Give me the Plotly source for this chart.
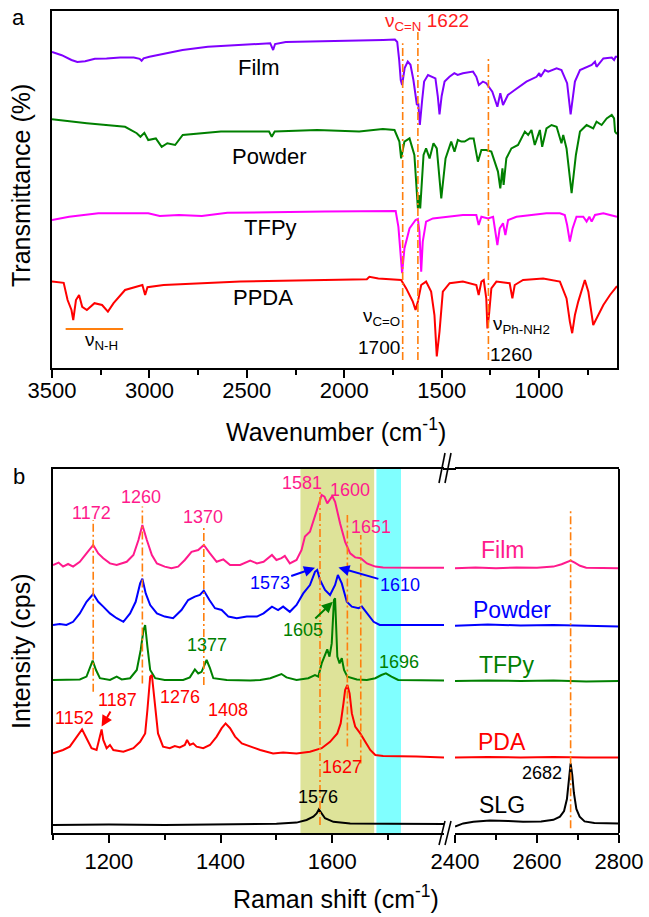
import plotly.graph_objects as go

W, H = 649, 917
FONT = "Liberation Sans, Arial, sans-serif"

# ---------------- Panel a: FTIR (wavenumber, transmittance a.u.) ----------------
film_wn = [3500, 3450, 3400, 3370, 3330, 3280, 3220, 3150, 3080, 3050, 3040, 3030, 3000, 2900, 2830, 2700, 2600, 2450, 2380, 2365,
           2355, 2300, 2150, 2000, 1800, 1740, 1728, 1718, 1710, 1703, 1690, 1674, 1660, 1645, 1632, 1627, 1620, 1612, 1600, 1590,
           1570, 1545, 1532, 1520, 1511, 1500, 1485, 1460, 1435, 1418, 1391, 1339, 1322, 1309, 1288, 1271, 1240, 1214, 1199, 1185,
           1160, 1125, 1065, 1013, 999, 992, 970, 953, 910, 885, 856, 838, 816, 790, 730, 713, 705, 670, 627, 615, 607, 600]
film_t = [79, 78.2, 77, 76.5, 76.7, 77.3, 77.4, 77.6, 77.6, 77.3, 76.8, 77.4, 77.8, 78.8, 79.5, 80.3, 80.6, 81, 81.2, 79.5,
          81, 81.5, 81.6, 81.8, 82, 82.1, 81.5, 77, 72, 70.75, 75, 76.6, 75.8, 72, 68, 65.75, 66.2, 60.75, 67, 71.6,
          73.25, 72.8, 72.4, 68, 63.4, 68, 71.6, 72.8, 73.7, 73.25, 73.7, 74.1, 72.8, 70.75, 71.6, 71.2, 69.1, 65.3, 68.7, 65.75,
          68.25, 69.5, 71.6, 72.8, 73.7, 72.8, 74.5, 74.1, 74.9, 74.5, 71.2, 63.4, 71.6, 74.5, 75.75, 76.6, 75.3, 77.4, 77.6, 77, 77.8, 77.8]

powder_wn = [3500, 3321, 3125, 3065, 3046, 3026, 3006, 2967, 2937, 2908, 2868, 2829, 2633, 2386, 2372, 2357, 2139, 1923, 1802, 1742,
             1717, 1708, 1691, 1665, 1640, 1628, 1622, 1617, 1610, 1593, 1580, 1562, 1542, 1525, 1502, 1480, 1451, 1434, 1417, 1399,
             1382, 1356, 1336, 1314, 1296, 1271, 1245, 1211, 1199, 1188, 1182, 1168, 1142, 1108, 1073, 1056, 1039, 1022, 996, 984,
             962, 936, 910, 885, 876, 859, 833, 811, 790, 756, 722, 705, 679, 653, 627, 615, 610, 600]
powder_t = [62.2, 61.2, 60.3, 58.7, 57.8, 58.8, 57, 57.4, 55.3, 56.2, 55.75, 58.25, 59.1, 59.1, 57.8, 59.1, 59.5, 59.1, 59.75, 59.5,
            56.6, 52.4, 56.6, 57.4, 53.25, 43.25, 39.9, 43.25, 39.9, 53.25, 54.9, 52.4, 56.2, 54.9, 42.4, 52.4, 56.6, 54.1, 57, 56.6,
            56.6, 57.4, 57.4, 51.6, 54.5, 54.5, 54.1, 49.1, 44.9, 49.9, 45.75, 52.4, 54.9, 55.75, 59.1, 58.25, 59.5, 55.75, 59.5, 55.3,
            59.9, 60.75, 60.3, 56.2, 58.25, 54.9, 43.7, 53.25, 59.1, 60.75, 59.9, 61.6, 60.75, 62.4, 63.25, 62.4, 59.1, 58.5]

tfpy_wn = [3500, 3412, 3262, 3006, 2947, 2849, 2731, 2600, 2100, 1736, 1722, 1712, 1703, 1691, 1665, 1634, 1622, 1614, 1605, 1597,
           1580, 1545, 1477, 1391, 1322, 1310, 1296, 1262, 1236, 1223, 1214, 1202, 1185, 1173, 1159, 1116, 1048, 962, 893, 868,
           856, 842, 828, 808, 773, 756, 742, 730, 713, 670, 636, 610, 600]
tfpy_t = [37, 37.8, 38.7, 38.7, 38, 38.25, 38, 38.8, 39.1, 39.25, 35.3, 28, 23.7, 29.9, 34.9, 37, 37.25, 34.1, 24.1, 31.6,
          36.6, 37.4, 37.8, 38.25, 38.25, 35.75, 37.8, 37.4, 37.8, 34.1, 30.75, 34.9, 36.2, 33.25, 37, 37.8, 38.25, 38.7, 38.7, 38.25,
          35.75, 31.6, 34.9, 37.8, 37.8, 36.6, 37.8, 36.6, 38.25, 38.7, 38.25, 37.8, 37.8]

ppda_wn = [3500, 3440, 3420, 3400, 3391, 3377, 3361, 3345, 3321, 3282, 3243, 3213, 3184, 3125, 3036, 3022, 3010, 2927, 2533, 1884,
           1871, 1825, 1708, 1682, 1648, 1634, 1622, 1605, 1580, 1554, 1537, 1525, 1511, 1494, 1459, 1391, 1322, 1310, 1296, 1284,
           1271, 1265, 1257, 1245, 1219, 1151, 1137, 1125, 1082, 979, 893, 859, 842, 830, 816, 799, 765, 747, 722, 705,
           670, 636, 607, 600]
ppda_t = [21.6, 21.3, 17, 14.5, 12, 17, 18.25, 15.3, 14.5, 16.2, 15.75, 14.1, 16.2, 19.5, 20.75, 18.25, 20.2, 20.75, 21.6, 22.2,
          22.8, 22.4, 22, 19.9, 16.6, 14.5, 16.6, 20.75, 21.6, 19.1, 13.25, 2.9, 9.1, 19.1, 21.2, 21.6, 20.75, 18.25, 21.6, 22,
          17.4, 9.9, 13.25, 19.9, 21.6, 21.2, 17.4, 20.75, 22, 22.4, 21.6, 17.4, 11.6, 8.7, 13.25, 16.6, 22, 19.1, 10.75, 12.4,
          15.75, 18.25, 19.9, 20.5]

ftir_marks = [1700, 1622, 1260]
ftir_mark_top = [81.2, 84, 77.4]
ftir_ticks = [3500, 3000, 2500, 2000, 1500, 1000]

# ---------------- Panel b: Raman (shift, intensity a.u.) ----------------
film_rx = [1100, 1110, 1118, 1127, 1136, 1148, 1160, 1172, 1181, 1190, 1202, 1214, 1232, 1244, 1253, 1260, 1268, 1277, 1286, 1300,
           1312, 1324, 1336, 1348, 1360, 1370, 1381, 1393, 1405, 1417, 1435, 1453, 1465, 1477, 1492, 1500, 1509, 1515, 1524, 1536,
           1545, 1551, 1560, 1569, 1581, 1586, 1591, 1600, 1605, 1614, 1623, 1632, 1641, 1651, 1662, 1677, 1691, 1750, 1800]
film_ri = [67, 67.6, 66.6, 67.25, 66.6, 67.8, 69.9, 72, 69.9, 68.7, 67.4, 67, 67.8, 69.5, 73.25, 77, 73.25, 69.5, 67.4, 66.6,
           66.2, 66.6, 68.25, 70.3, 70.75, 72, 69.9, 67.8, 68.4, 67, 67, 68.1, 67.4, 67.8, 69.5, 68.25, 68.7, 69.25, 67.4, 68.25,
           70.75, 74.1, 75.3, 79.1, 84.5, 84.1, 82.4, 84.25, 82.8, 77.4, 72.8, 69.9, 68.9, 68.7, 67.4, 66.6, 66.4, 66.3, 66.3]
film_rx2 = [2400, 2450, 2500, 2550, 2600, 2640, 2660, 2672, 2682, 2692, 2705, 2720, 2760, 2800]
film_ri2 = [66.2, 66.4, 66.2, 66.4, 66.3, 66.6, 67.2, 67.8, 68.1, 67.6, 66.8, 66.3, 66.3, 66.2]

powder_rx = [1100, 1112, 1124, 1136, 1148, 1160, 1172, 1181, 1190, 1202, 1214, 1226, 1238, 1248, 1256, 1260, 1266, 1274, 1286, 1300,
             1315, 1330, 1342, 1354, 1363, 1370, 1380, 1390, 1402, 1414, 1429, 1447, 1465, 1477, 1492, 1503, 1512, 1524, 1536, 1548,
             1560, 1569, 1573, 1578, 1587, 1596, 1605, 1610, 1617, 1626, 1635, 1647, 1653, 1662, 1674, 1685, 1720, 1800]
powder_ri = [52, 52.25, 52, 52.8, 54.9, 57.8, 59.75, 57.8, 56.6, 54.9, 53.7, 52.8, 54.9, 57.8, 62.4, 63.6, 59.9, 57, 54.9, 54.1,
             53.7, 55.75, 58.25, 59.1, 59.5, 60.6, 58.25, 56.2, 55.75, 54.1, 53.7, 54.1, 54.1, 54.9, 56.6, 55.75, 56.6, 55.3, 57, 59.9,
             62, 65.3, 65.75, 63.25, 60.75, 59.5, 62, 64.5, 62.4, 57.8, 56.6, 56.2, 56.6, 54.9, 52.8, 52, 52, 52]
powder_rx2 = [2400, 2480, 2560, 2640, 2720, 2800]
powder_ri2 = [51.8, 52.1, 51.9, 52.0, 51.8, 51.6]

tfpy_rx = [1100, 1124, 1148, 1160, 1166, 1171, 1177, 1184, 1202, 1214, 1223, 1238, 1250, 1257, 1262, 1265, 1269, 1274, 1283, 1300,
           1333, 1345, 1354, 1360, 1366, 1375, 1381, 1387, 1411, 1453, 1471, 1489, 1509, 1518, 1536, 1557, 1569, 1575, 1581, 1587,
           1591, 1595, 1599, 1603, 1605, 1609, 1613, 1617, 1621, 1627, 1644, 1662, 1677, 1688, 1696, 1706, 1718, 1800]
tfpy_ri = [38.25, 38.25, 38.4, 39.1, 41.2, 43.1, 40.75, 38.7, 38.25, 39.1, 38.4, 38.7, 40.75, 45.75, 50.75, 52, 46.6, 40.75, 38.7, 38.25,
           38.25, 38.9, 40.9, 39.9, 40.3, 43.25, 41.2, 38.7, 38.25, 38.1, 38.25, 38.7, 39.75, 38.9, 38.25, 38.7, 39.5, 39.1, 42.4, 44.5,
           45.9, 44.1, 47.4, 58.25, 58.7, 44.1, 42.4, 43.7, 40.75, 39.1, 38.4, 38.25, 38.7, 39.5, 39.9, 39.1, 38.25, 38.1]
tfpy_rx2 = [2400, 2480, 2560, 2640, 2720, 2800]
tfpy_ri2 = [38.0, 38.1, 38.0, 38.1, 37.9, 38.0]

pda_rx = [1100, 1118, 1130, 1142, 1152, 1160, 1169, 1178, 1183, 1187, 1190, 1196, 1202, 1208, 1226, 1244, 1256, 1265, 1269, 1274,
          1277, 1283, 1288, 1297, 1309, 1318, 1327, 1336, 1340, 1345, 1351, 1357, 1369, 1381, 1393, 1402, 1409, 1417, 1426, 1438,
          1453, 1471, 1494, 1512, 1536, 1560, 1581, 1596, 1609, 1615, 1620, 1623, 1627, 1631, 1635, 1641, 1650, 1659, 1668, 1677,
          1691, 1751, 1800]
pda_ri = [19.9, 20.75, 21.6, 24.1, 25.9, 23.7, 21.2, 20.75, 24.1, 25.9, 23.25, 21.2, 22, 20.75, 20.3, 21.2, 22.8, 24.9, 30.75, 39.1,
          39.5, 32.4, 24.9, 21.6, 21.2, 21.75, 21.4, 22, 23.25, 22, 22.4, 21.6, 21.2, 22, 24.1, 26.2, 27.4, 26.2, 24.1, 22.4,
          21.6, 20.75, 19.9, 20.1, 19.9, 20.3, 21.2, 22.8, 24.9, 27.4, 32.4, 35.75, 37, 34.9, 29.9, 26.6, 24.9, 22.8, 20.75, 19.5,
          19.25, 19.1, 18.9]
pda_rx2 = [2400, 2480, 2560, 2640, 2720, 2800]
pda_ri2 = [18.9, 19.0, 18.9, 19.0, 18.9, 18.9]

slg_rx = [1100, 1200, 1300, 1400, 1500, 1536, 1554, 1566, 1572, 1576, 1581, 1587, 1602, 1632, 1700, 1800]
slg_ri = [2, 2.1, 2, 2.2, 2.3, 2.6, 3.25, 4.1, 4.9, 5.9, 4.9, 3.7, 2.8, 2.4, 2.3, 2.25]
slg_rx2 = [2400, 2420, 2445, 2485, 2530, 2566, 2610, 2640, 2656, 2666, 2673, 2678, 2682, 2686, 2690, 2696, 2704, 2716, 2740, 2800]
slg_ri2 = [1.6, 2.4, 2.8, 3.1, 3, 2.8, 2.9, 3.3, 4.1, 5.5, 8.5, 13, 17.4, 14.5, 10, 6, 4.1, 2.9, 2.5, 2.4]

raman_marks = [1172, 1260, 1370, 1578, 1627, 1651]
raman_mark_lo = [35.3, 37.4, 37, 2, 21.6, 17.4]
raman_mark_hi = [78.25, 81.6, 76.6, 85.3, 79.5, 74.5]
slg_2d_mark = 2682
band_yellow = [1543, 1675]
band_cyan = [1679, 1723]

# ---------------- colours ----------------
C_ORANGE = "#ff7f0e"
DASH = "8px,3px,2px,3px"

fig = go.Figure()

def line_trace(x, y, color, xa, ya, width=2):
    fig.add_trace(go.Scatter(x=x, y=y, mode="lines", line=dict(color=color, width=width),
                             xaxis=xa, yaxis=ya, showlegend=False, hoverinfo="skip"))

line_trace(film_wn, film_t, "#8000ff", "x", "y")
line_trace(powder_wn, powder_t, "#008000", "x", "y")
line_trace(tfpy_wn, tfpy_t, "#ff00ff", "x", "y")
line_trace(ppda_wn, ppda_t, "#ff0000", "x", "y")

C_FILM_R = "#ff1a8c"
for (xa, xs, ys, col) in [
    ("x2", film_rx, film_ri, C_FILM_R), ("x3", film_rx2, film_ri2, C_FILM_R),
    ("x2", powder_rx, powder_ri, "#0000ff"), ("x3", powder_rx2, powder_ri2, "#0000ff"),
    ("x2", tfpy_rx, tfpy_ri, "#008000"), ("x3", tfpy_rx2, tfpy_ri2, "#008000"),
    ("x2", pda_rx, pda_ri, "#ff0000"), ("x3", pda_rx2, pda_ri2, "#ff0000"),
    ("x2", slg_rx, slg_ri, "#000000"), ("x3", slg_rx2, slg_ri2, "#000000"),
]:
    line_trace(xs, ys, col, xa, "y2")

def PX(v):
    return v / W

def PY(v):
    return 1 - v / H

shapes = []
# dash-dot marks panel a
for wn, top in zip(ftir_marks, ftir_mark_top):
    shapes.append(dict(type="line", xref="x", yref="y", x0=wn, x1=wn, y0=2, y1=top,
                       line=dict(color=C_ORANGE, width=1.6, dash=DASH)))
# N-H range bar
shapes.append(dict(type="line", xref="x", yref="y", x0=3430, x1=3135, y0=9.75, y1=9.75,
                   line=dict(color=C_ORANGE, width=2)))
# bands panel b
shapes.append(dict(type="rect", xref="x2", yref="y2 domain", x0=band_yellow[0], x1=band_yellow[1], y0=0, y1=1,
                   fillcolor="rgb(222,227,153)", line=dict(width=0), layer="below"))
shapes.append(dict(type="rect", xref="x2", yref="y2 domain", x0=band_cyan[0], x1=band_cyan[1], y0=0, y1=1,
                   fillcolor="rgb(128,255,255)", line=dict(width=0), layer="below"))
for xv, lo, hi in zip(raman_marks, raman_mark_lo, raman_mark_hi):
    shapes.append(dict(type="line", xref="x2", yref="y2", x0=xv, x1=xv, y0=lo, y1=hi,
                       line=dict(color=C_ORANGE, width=1.6, dash=DASH)))
shapes.append(dict(type="line", xref="x3", yref="y2", x0=slg_2d_mark, x1=slg_2d_mark, y0=1.2, y1=81.2,
                   line=dict(color=C_ORANGE, width=1.6, dash=DASH)))
# right border and top connector of broken panel
shapes.append(dict(type="line", xref="x3 domain", yref="y2 domain", x0=1, x1=1, y0=0, y1=1,
                   line=dict(color="black", width=2)))
shapes.append(dict(type="line", xref="paper", yref="paper", x0=PX(443), x1=PX(456), y0=PY(469), y1=PY(469),
                   line=dict(color="black", width=2)))
# break marks
for (x0, y0, x1, y1) in [(439, 483, 445, 453), (445, 483, 451, 453), (439, 845, 445, 821), (445, 845, 451, 821)]:
    shapes.append(dict(type="line", xref="paper", yref="paper", x0=PX(x0), x1=PX(x1), y0=PY(y0), y1=PY(y1),
                       line=dict(color="black", width=1.6)))

ann = []

def A(text, x, y, xref, yref, size, color="black", **kw):
    d = dict(text=text, x=x, y=y, xref=xref, yref=yref, showarrow=False,
             xanchor="center", yanchor="middle",
             font=dict(family=FONT, size=size, color=color))
    d.update(kw)
    ann.append(d)

# panel letters & titles
A("a", PX(18), PY(18), "paper", "paper", 22)
A("b", PX(19), PY(476), "paper", "paper", 22)
A("Transmittance (%)", PX(21), PY(186), "paper", "paper", 25, textangle=-90)
A("Wavenumber (cm<sup>-1</sup>)", PX(336), PY(430), "paper", "paper", 25)
A("Intensity (cps)", PX(21), PY(651), "paper", "paper", 25, textangle=-90)
A("Raman shift (cm<sup>-1</sup>)", PX(336), PY(897), "paper", "paper", 25)

# panel a labels
A("Film", 2436, 75, "x", "y", 22)
A("Powder", 2386, 52.75, "x", "y", 22)
A("TFPy", 2376, 35, "x", "y", 22)
A("PPDA", 2415, 17.5, "x", "y", 22)
A("ν<sub>C=N</sub> 1622", 1575, 86.5, "x", "y", 19, "#ff2020")
A("ν<sub>C=O</sub>", 1705, 12.75, "x", "y", 19, xanchor="right")
A("1700", 1705, 5, "x", "y", 19, xanchor="right")
A("ν<sub>Ph-NH2</sub>", 1248, 10.75, "x", "y", 19, xanchor="left")
A("1260", 1264, 3.25, "x", "y", 19, xanchor="left")
A("ν<sub>N-H</sub>", 3244, 6.75, "x", "y", 19)

# panel b labels
C_P = C_FILM_R
for t, x, y, c in [("1172", 1169, 79.9, C_P), ("1260", 1257, 84.1, C_P), ("1370", 1368, 79.1, C_P),
                   ("1581", 1546, 87.4, C_P), ("1600", 1631, 85.75, C_P), ("1651", 1669, 76.6, C_P),
                   ("1696", 1719, 42.8, "#008000"), ("1377", 1376, 47, "#008000"),
                   ("1152", 1138, 28.7, "#ff0000"), ("1276", 1328, 34.1, "#ff0000"),
                   ("1408", 1414, 30.75, "#ff0000"), ("1627", 1617, 16.6, "#ff0000"),
                   ("1576", 1575, 9.1, "black")]:
    A(t, x, y, "x2", "y2", 18, c)
A("2682", 2611, 15, "x3", "y2", 18)
A("Film", 2517, 70.75, "x3", "y2", 23, C_P)
A("Powder", 2538, 55.75, "x3", "y2", 23, "#0000ff")
A("TFPy", 2526, 42, "x3", "y2", 23, "#008000")
A("PDA", 2514, 22.8, "x3", "y2", 23, "#ff0000")
A("SLG", 2514, 7, "x3", "y2", 23)

# arrows
for t, hx, hy, tx, ty, c in [("1573", 1569, 66.3, 1488, 62.4, "#0000ff"),
                             ("1610", 1611, 66.4, 1721, 62, "#0000ff"),
                             ("1605", 1601, 57.8, 1548, 50.75, "#008000"),
                             ("1187", 1187, 26.6, 1215, 33.25, "#ff0000")]:
    ann.append(dict(text=t, x=hx, y=hy, xref="x2", yref="y2", ax=tx, ay=ty, axref="x2", ayref="y2",
                    showarrow=True, arrowhead=2, arrowsize=1.1, arrowwidth=2, arrowcolor=c,
                    font=dict(family=FONT, size=18, color=c)))

axis_common = dict(showline=True, linecolor="black", linewidth=2, showgrid=False, zeroline=False,
                   ticks="outside", ticklen=8, tickwidth=1.8, tickcolor="black", automargin=False,
                   tickfont=dict(family=FONT, size=22, color="black"))

fig.update_layout(
    width=W, height=H, margin=dict(l=0, r=0, t=0, b=0), autosize=False,
    paper_bgcolor="white", plot_bgcolor="white", showlegend=False,
    xaxis=dict(domain=[PX(52), PX(617)], range=[3500, 600], anchor="y", mirror=True,
               tickmode="array", tickvals=ftir_ticks, ticklabelstandoff=-6,
               minor=dict(tickvals=[3250, 2750, 2250, 1750, 1250, 750], ticks="outside", ticklen=5,
                          tickwidth=1.5, tickcolor="black"),
               **axis_common),
    yaxis=dict(domain=[PY(368), PY(11)], range=[0, 89.25], anchor="x", showline=True, mirror=True, automargin=False,
               linecolor="black", linewidth=2, showgrid=False, zeroline=False, ticks="", showticklabels=False),
    xaxis2=dict(domain=[PX(53), PX(444)], range=[1100, 1800], anchor="y2", mirror=True,
                tickmode="array", tickvals=[1200, 1400, 1600],
                minor=dict(tickvals=[1100, 1300, 1500, 1700], ticks="outside", ticklen=5,
                           tickwidth=1.5, tickcolor="black"),
                **axis_common),
    xaxis3=dict(domain=[PX(455), PX(619)], range=[2400, 2800], anchor="y2", mirror=True,
                tickmode="array", tickvals=[2400, 2600, 2800],
                minor=dict(tickvals=[2500, 2700], ticks="outside", ticklen=5,
                           tickwidth=1.5, tickcolor="black"),
                **axis_common),
    yaxis2=dict(domain=[PY(833), PY(469)], range=[0, 91], anchor="x2", showline=True, automargin=False,
                linecolor="black", linewidth=2, showgrid=False, zeroline=False, ticks="", showticklabels=False),
    shapes=shapes, annotations=ann,
)

fig.write_html("out.html")
